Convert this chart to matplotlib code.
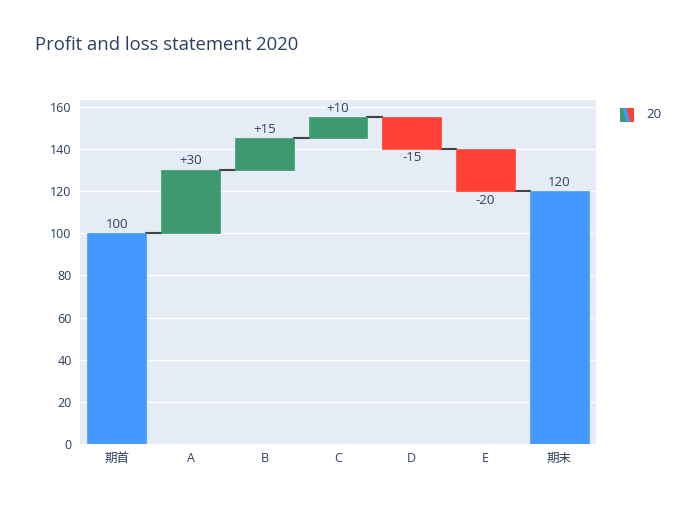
import numpy as np
import matplotlib.pyplot as plt
from matplotlib.patches import Polygon

plt.rcParams['font.family'] = ['Open Sans', 'Noto Sans CJK JP', 'DejaVu Sans']

categories = ['期首', 'A', 'B', 'C', 'D', 'E', '期末']
values = [100, 30, 15, 10, -15, -20, 120]
measures = ['total', 'relative', 'relative', 'relative', 'relative', 'relative', 'total']
labels = ['100', '+30', '+15', '+10', '-15', '-20', '120']
trace_name = '20'

c_inc = '#3D9970'
c_dec = '#FF4136'
c_tot = '#4499FF'
txt = '#2a3f5f'

fig = plt.figure(figsize=(6.79, 5.25), dpi=100)
ax = fig.add_axes([80 / 679, 81 / 525, 516 / 679, 344 / 525])
ax.set_facecolor('#E5ECF6')

# base / top of each bar
bases, tops = [], []
level = 0
for v, m in zip(values, measures):
    if m == 'total':
        b, t = 0, v
        level = v
    else:
        b, t = level, level + v
        level = t
    bases.append(b)
    tops.append(t)

w = 0.8
x = np.arange(len(categories))
for i, (b, t, m) in enumerate(zip(bases, tops, measures)):
    if m == 'total':
        col = c_tot
    elif t >= b:
        col = c_inc
    else:
        col = c_dec
    ax.bar(x[i], t - b, bottom=b, width=w, color=col, zorder=3,
           edgecolor=col, linewidth=0.5)
    hi = max(b, t)
    lo = min(b, t)
    if m == 'total' or t >= b:
        ax.text(x[i], hi + 1.2, labels[i], ha='center', va='bottom',
                fontsize=9.5, color=txt, zorder=4)
    else:
        ax.text(x[i], lo - 1.2, labels[i], ha='center', va='top',
                fontsize=9.5, color=txt, zorder=4)

# connectors
for i in range(len(categories) - 1):
    ax.plot([x[i] + w / 2, x[i + 1] - w / 2], [tops[i], tops[i]],
            color='#444444', linewidth=1.5, zorder=2)

ax.set_xlim(-0.5, len(categories) - 0.5)
ax.set_ylim(0, 163.2)
ax.set_xticks(x)
ax.set_xticklabels(categories)
ax.set_yticks(np.arange(0, 161, 20))
ax.grid(axis='y', color='white', linewidth=1, zorder=0)
ax.tick_params(axis='both', length=0, labelsize=9, colors=txt, pad=6)
for s in ax.spines.values():
    s.set_visible(False)

fig.text(35 / 679, 1 - 45 / 525, 'Profit and loss statement 2020',
         fontsize=13.3, color=txt, va='center', ha='left')

# legend icon
lax = fig.add_axes([620 / 679, 1 - 122 / 525, 14 / 679, 14 / 525])
lax.set_xlim(0, 1)
lax.set_ylim(0, 1)
lax.axis('off')
lax.add_patch(Polygon([[0, 0], [0, 1], [0.35, 1], [0.65, 0]], closed=True, color=c_inc))
lax.add_patch(Polygon([[0.35, 1], [0.65, 0], [0.75, 0], [0.5, 1]], closed=True, color=c_tot))
lax.add_patch(Polygon([[0.5, 1], [0.75, 0], [1, 0], [1, 1]], closed=True, color=c_dec))
lax.add_patch(Polygon([[0.25, 1], [0.5, 0], [0.65, 0], [0.4, 1]], closed=True, color=c_tot))
fig.text(646 / 679, 1 - 115 / 525, trace_name, fontsize=9.5, color=txt, va='center')

fig.savefig('out.png', dpi=100, facecolor='white')
